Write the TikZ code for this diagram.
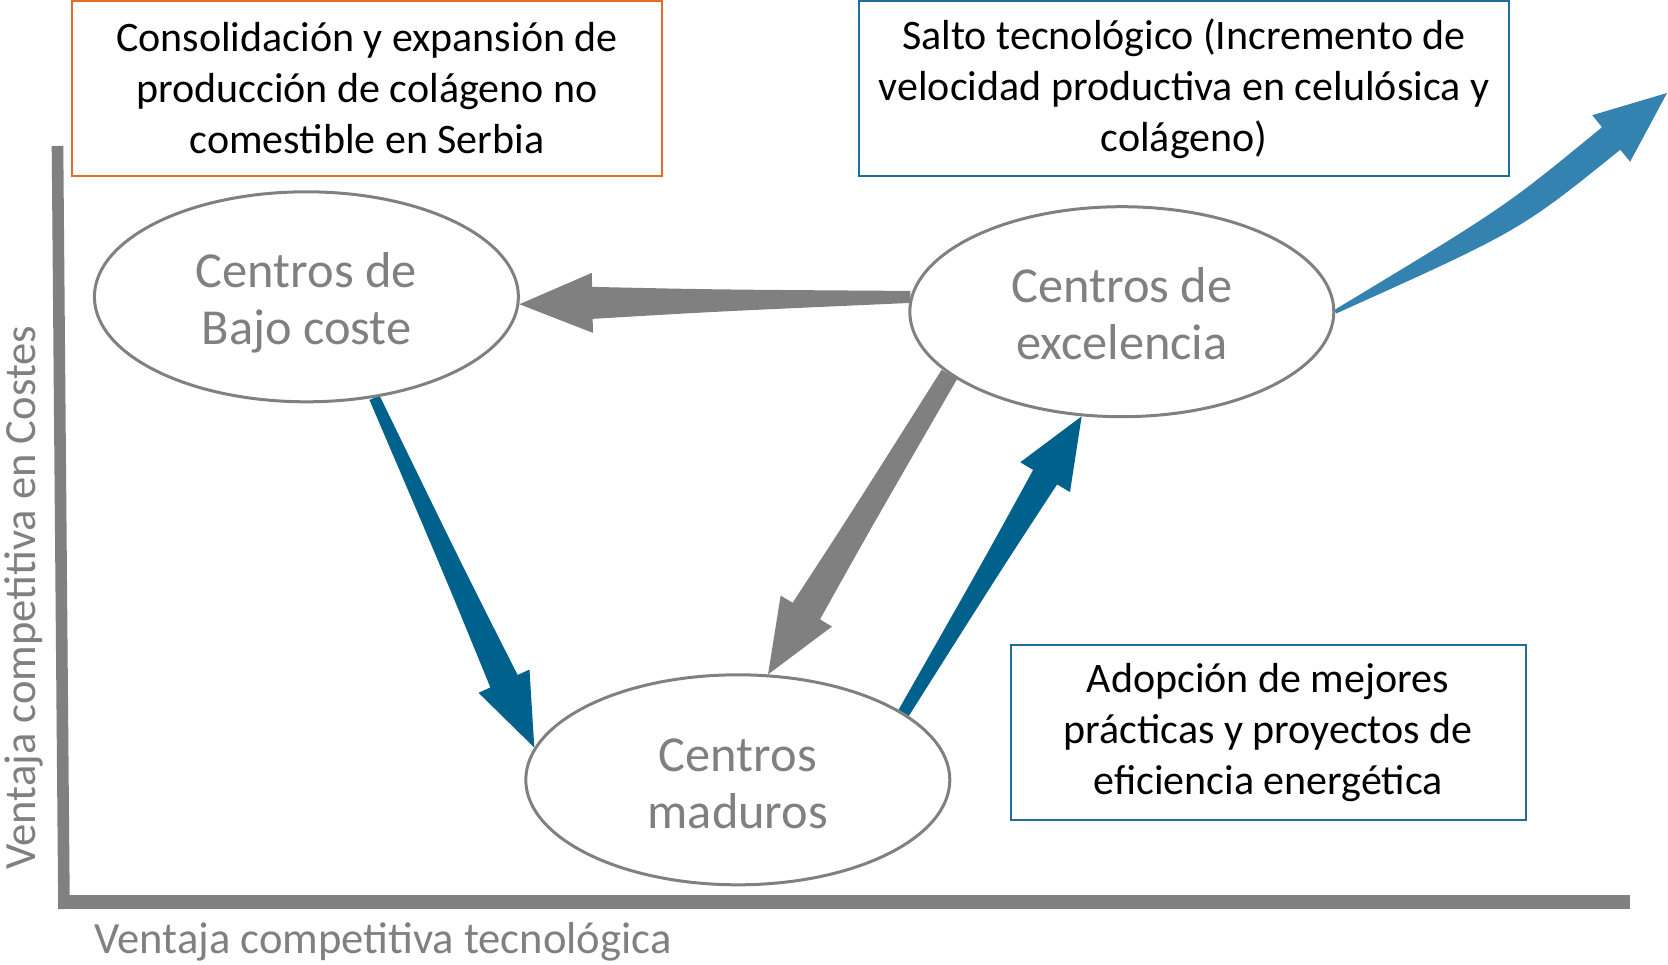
\documentclass[tikz,border=0pt]{standalone}
\usepackage{fontspec}
\setmainfont{Carlito}
\usetikzlibrary{shapes.geometric,calc,backgrounds}

\definecolor{gris}{HTML}{808080}
\definecolor{azul}{HTML}{00628C}
\definecolor{azulclaro}{HTML}{3482B0}
\definecolor{naranja}{HTML}{E36C2A}
\definecolor{borde}{HTML}{1F6E98}

\tikzstyle{centro}=[ellipse,
draw=gris,
line width=1.5pt,
fill=white,
minimum width=212pt,
minimum height=105pt,
inner sep=0pt]
\tikzstyle{centrotexto}=[text=gris,
align=center,
inner sep=0pt,
font=\fontsize{25.2}{28.5}\selectfont]
\tikzstyle{nota}=[rectangle,
draw=borde,
line width=1pt,
minimum height=87.5pt,
inner sep=0pt,
align=center,
font=\fontsize{21}{25.5}\selectfont]
\tikzstyle{rotulo}=[text=gris,
inner sep=0pt,
font=\fontsize{22.3}{26}\selectfont]

% tapered block arrow: from, to, bend, tail, shaft, head (half widths, pt),
% head length (pt), fill, half width at the middle control (pt)
\newcommand{\taperarrow}[9]{%
	\path (#1) coordinate (ta) (#2) coordinate (tt);
	\path ($(ta)!0.5!(tt)$) coordinate (tm);
	\path ($(tm)!#3pt!90:(tt)$) coordinate (tc);
	\path ($(tt)!#7pt!(tc)$) coordinate (tb);
	\path ($(tc)+(tt)-(ta)$) coordinate (td);
	\fill[#8] ($(ta)!#4pt!90:(tc)$)
	.. controls ($(tc)!#9pt!90:(td)$) .. ($(tb)!#5pt!90:(tt)$)
	-- ($(tb)!#6pt!90:(tt)$) -- (tt) -- ($(tb)!#6pt!-90:(tt)$)
	-- ($(tb)!#5pt!-90:(tt)$)
	.. controls ($(tc)!#9pt!-90:(td)$) .. ($(ta)!#4pt!-90:(tc)$)
	-- cycle;
}

\begin{document}
\begin{tikzpicture}[x=0.5pt,y=-0.5pt]
	\useasboundingbox (0,0) rectangle (1668,964);
	
	% axes
	\coordinate (ytop) at (57.5,146);
	\coordinate (o) at (64,909);
	\coordinate (x0) at (58,902);
	\coordinate (xend) at (1630,902);
	\draw[gris,line width=5.8pt] (ytop) -- (o);
	\draw[gris,line width=7pt] (x0) -- (xend);
	\node (ylab) [rotulo,rotate=90,anchor=base west] at (35,870)
	{Ventaja competitiva en Costes};
	\node (xlab) [rotulo,anchor=base west] at (94,953)
	{Ventaja competitiva tecnológica};
	
	% the three kinds of centres
	\node (bajo) [centro] at (306.4,296.8) {};
	\node (exc)  [centro] at (1121.8,311.7) {};
	\node (mad)  [centro] at (737.8,779.8) {};
	\node (bajo-t) [centrotexto] at ([yshift=-3.2pt]bajo) {Centros de\\Bajo coste};
	\node (exc-t)  [centrotexto] at ([yshift=-1pt]exc) {Centros de\\excelencia};
	\node (mad-t)  [centrotexto] at ([yshift=-2pt]mad) {Centros\\maduros};
	
	% notes
	\node (cons) [nota,draw=naranja,minimum width=295pt] at (367,88.3)
	{Consolidación y expansión de\\producción de colágeno no\\comestible en Serbia};
	\node (salto) [nota,minimum width=325pt] at (1184,88.3)
	{Salto tecnológico (Incremento de\\velocidad productiva en celulósica y\\colágeno)};
	\node (adop) [nota,minimum width=257.5pt] at (1268,732.5)
	{Adopción de mejores\\prácticas y proyectos de\\eficiencia energética};
	
	\coordinate (sube) at (1667,93);
	
	% arrows go behind the ellipses
	\begin{pgfonlayer}{background}
	\taperarrow{exc.176}{bajo.358}{0}{3}{8}{15}{36.5}{gris}{5.5}
	\taperarrow{exc.200}{mad.74}{0}{4.5}{8}{15}{37}{gris}{6.25}
	\taperarrow{bajo.304}{mad.171}{0}{2.75}{7.5}{14}{36.5}{azul}{5.1}
	\taperarrow{mad.22}{exc.249}{0}{3}{7}{14.5}{35.5}{azul}{5}
	\taperarrow{exc.east}{sube}{-10}{1}{7.25}{15}{36}{azulclaro}{7}
	\end{pgfonlayer}
\end{tikzpicture}
\end{document}
